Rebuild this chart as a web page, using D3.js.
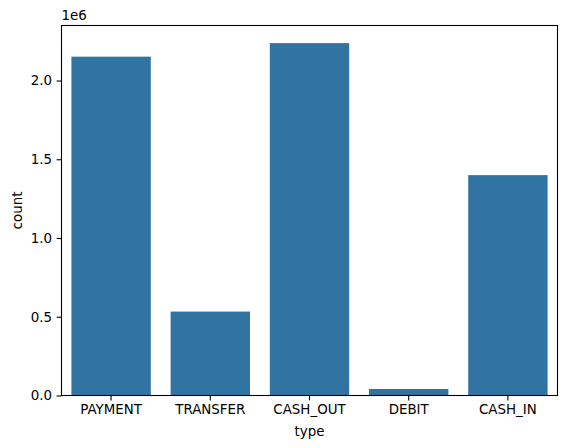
<!DOCTYPE html>
<html><head><meta charset="utf-8">
<script src="https://cdn.jsdelivr.net/npm/d3@7"></script>
<style>body{margin:0;background:#fff}svg{display:block}text{font-family:"DejaVu Sans",sans-serif;fill:#000}</style>
</head><body><svg id="c" width="567" height="448"></svg>
<script>
const categories = ["PAYMENT","TRANSFER","CASH_OUT","DEBIT","CASH_IN"];
const counts = [2151495, 532909, 2237500, 41432, 1399284];
const yTicks = [0, 0.5e6, 1.0e6, 1.5e6, 2.0e6];
const yTickLabels = ["0.0","0.5","1.0","1.5","2.0"];

const svg = d3.select("#c");
const L = 61.5, R = 557.5, T = 25.5, B = 395.5;
const fs = 13.4;
const x = d3.scaleBand().domain(categories).range([L, R]).paddingInner(0.2).paddingOuter(0.1);
const y = d3.scaleLinear().domain([0, d3.max(counts) * 1.05]).range([B, T]);

svg.append("g").selectAll("rect").data(categories).join("rect")
  .attr("x", d => x(d)).attr("width", x.bandwidth())
  .attr("y", (d, i) => y(counts[i])).attr("height", (d, i) => B - y(counts[i]))
  .attr("fill", "#3274a1");

const xa = svg.append("g").attr("transform", `translate(0,${B})`)
  .call(d3.axisBottom(x).tickSize(4.9).tickPadding(4.2).tickSizeOuter(0));
const ya = svg.append("g").attr("transform", `translate(${L},0)`)
  .call(d3.axisLeft(y).tickValues(yTicks).tickFormat((d, i) => yTickLabels[i]).tickSize(4.9).tickPadding(4.5).tickSizeOuter(0));
[xa, ya].forEach(a => {
  a.select(".domain").remove();
  a.selectAll("line").attr("stroke", "#000").attr("stroke-width", 1.1);
  a.selectAll("text").style("font-size", fs + "px").style("font-family", "DejaVu Sans");
});

svg.append("rect").attr("x", L).attr("y", T).attr("width", R - L).attr("height", B - T)
  .attr("fill", "none").attr("stroke", "#000").attr("stroke-width", 1.1);

svg.append("text").attr("x", (L + R) / 2).attr("y", 436).attr("text-anchor", "middle")
  .style("font-size", fs + "px").text("type");
svg.append("text").attr("transform", `translate(22,${(T + B) / 2}) rotate(-90)`).attr("text-anchor", "middle")
  .style("font-size", fs + "px").text("count");
svg.append("text").attr("x", L).attr("y", 20).style("font-size", fs + "px").text("1e6");
</script></body></html>
